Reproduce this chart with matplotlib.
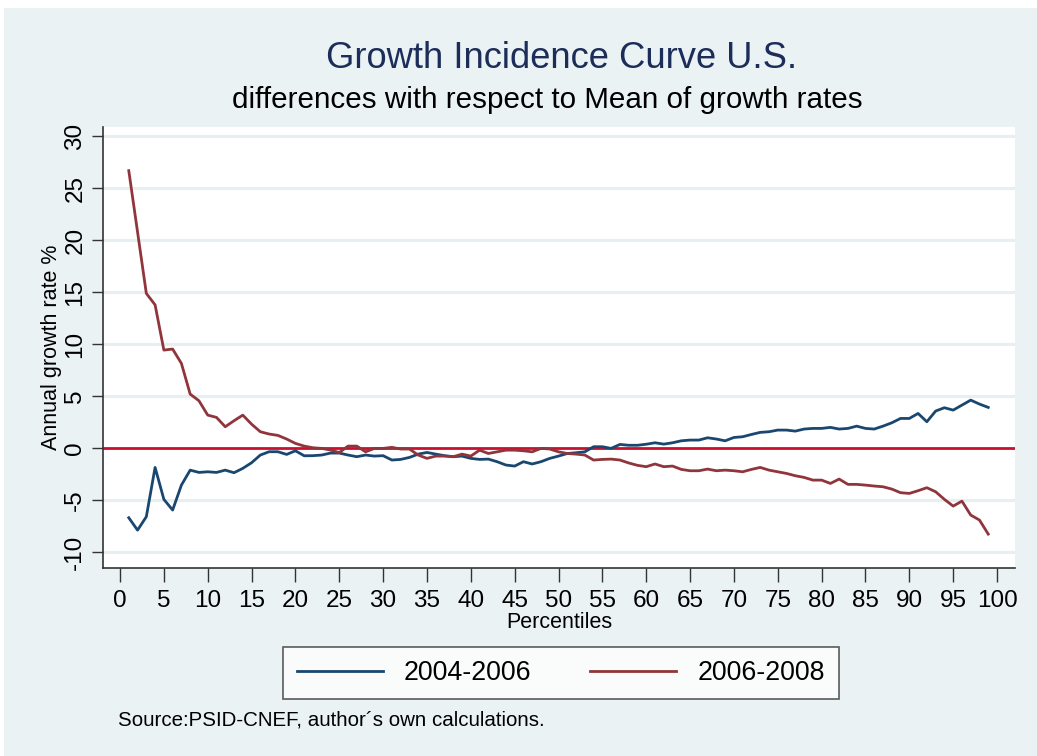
import numpy as np
import matplotlib
matplotlib.use("Agg")
import matplotlib.pyplot as plt
from matplotlib.patches import Rectangle

plt.rcParams['font.family'] = ['Liberation Sans', 'DejaVu Sans']

# percentiles 1..99
pct = np.arange(1, 100)

g0406 = [-6.67, -7.86, -6.57, -1.83, -4.9, -5.93, -3.53, -2.09, -2.31, -2.25,
         -2.31, -2.09, -2.34, -1.92, -1.38, -0.64, -0.32, -0.32, -0.58, -0.23,
         -0.71, -0.7, -0.64, -0.45, -0.45, -0.64, -0.8, -0.64, -0.74, -0.7,
         -1.12, -1.06, -0.87, -0.55, -0.39, -0.55, -0.7, -0.8, -0.74, -0.96,
         -1.06, -1.03, -1.28, -1.6, -1.7, -1.28, -1.5, -1.28, -0.96, -0.74,
         -0.49, -0.42, -0.33, 0.16, 0.16, 0.0, 0.38, 0.3, 0.3, 0.4,
         0.54, 0.41, 0.54, 0.73, 0.8, 0.8, 1.02, 0.9, 0.73, 1.05,
         1.12, 1.34, 1.54, 1.6, 1.76, 1.76, 1.66, 1.86, 1.92, 1.92,
         2.02, 1.86, 1.92, 2.14, 1.92, 1.86, 2.14, 2.46, 2.88, 2.88,
         3.36, 2.56, 3.59, 3.91, 3.68, 4.16, 4.64, 4.26, 3.94]

g0608 = [26.7, 20.8, 14.9, 13.8, 9.45, 9.55, 8.17, 5.22, 4.58, 3.2,
         2.98, 2.08, 2.66, 3.2, 2.33, 1.6, 1.38, 1.25, 0.9, 0.48,
         0.22, 0.06, 0.0, -0.16, -0.4, 0.22, 0.22, -0.33, 0.0, 0.0,
         0.1, -0.06, -0.06, -0.64, -0.96, -0.74, -0.74, -0.8, -0.55, -0.74,
         -0.17, -0.49, -0.33, -0.17, -0.17, -0.23, -0.33, 0.0, -0.06, -0.33,
         -0.49, -0.55, -0.64, -1.12, -1.06, -1.03, -1.12, -1.4, -1.63, -1.76,
         -1.5, -1.76, -1.7, -2.02, -2.15, -2.15, -1.99, -2.15, -2.09, -2.15,
         -2.25, -2.02, -1.83, -2.09, -2.25, -2.41, -2.63, -2.79, -3.05, -3.05,
         -3.37, -2.95, -3.46, -3.46, -3.53, -3.62, -3.69, -3.91, -4.26, -4.33,
         -4.07, -3.78, -4.17, -4.9, -5.55, -5.07, -6.41, -6.89, -8.24]

xticks = list(range(0, 101, 5))
yticks = list(range(-10, 31, 5))

bg = '#eaf2f3'
grid_c = '#e6eff1'

fig = plt.figure(figsize=(10.37, 7.56), dpi=100, facecolor='white')
fig.patches.append(Rectangle((4 / 1037, 0), 1, 1 - 8 / 756, transform=fig.transFigure,
                             facecolor=bg, edgecolor='none', zorder=-10))

ax = fig.add_axes([103 / 1037, 1 - 568 / 756, (1015 - 103) / 1037, (568 - 127) / 756])
ax.set_facecolor('white')

for yv in yticks:
    if yv != 0:
        ax.axhline(yv, color=grid_c, lw=2.2, zorder=1)
ax.axhline(0, color='#c8102e', lw=2.0, zorder=2)

ax.plot(pct, g0406, color='#1a476f', lw=2.0, label='2004-2006', zorder=3)
ax.plot(pct, g0608, color='#90353b', lw=2.0, label='2006-2008', zorder=3)

ax.set_xlim(-1.94, 102.05)
ax.set_ylim(-11.5, 30.9)
ax.set_xticks(xticks)
ax.set_yticks(yticks)
ax.set_xticklabels([str(v) for v in xticks], fontsize=17.5)
ax.set_yticklabels([str(v) for v in yticks], fontsize=17.5, rotation=90, va='center')
ax.tick_params(axis='x', length=10, width=1, color='#333333', pad=6)
ax.tick_params(axis='y', length=8, width=1, color='#333333', pad=4)

for s in ['top', 'right']:
    ax.spines[s].set_visible(False)
for s in ['left', 'bottom']:
    ax.spines[s].set_color('#333333')
    ax.spines[s].set_linewidth(1.2)

ax.set_xlabel('Percentiles', fontsize=15.5, labelpad=0)
ax.set_ylabel('Annual growth rate %', fontsize=15.5, labelpad=2)

fig.text(562 / 1037, 1 - 58 / 756, 'Growth Incidence Curve U.S.', ha='center', va='center',
         fontsize=26.2, color='#1c2d5a')
fig.text(547 / 1037, 1 - 100 / 756, 'differences with respect to Mean of growth rates',
         ha='center', va='center', fontsize=21.3, color='black')

leg = fig.legend(loc='center', bbox_to_anchor=(561 / 1037, 1 - 673 / 756), ncol=2,
                 fontsize=19.3, frameon=True, fancybox=False, edgecolor='#333333',
                 handlelength=3.2, columnspacing=2.2, borderpad=0.5, handletextpad=0.8)
leg.get_frame().set_linewidth(1.2)
leg.get_frame().set_facecolor('white')

fig.text(118 / 1037, 1 - 720 / 756, 'Source:PSID-CNEF, author\u00b4s own calculations.',
         ha='left', va='center', fontsize=14.8, color='black')

fig.savefig('out.png', dpi=100, facecolor=fig.get_facecolor())
